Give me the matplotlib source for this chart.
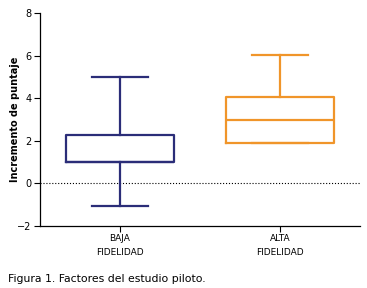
import matplotlib.pyplot as plt

# datos
grupos = ['BAJA\nFIDELIDAD', 'ALTA\nFIDELIDAD']
q1 = [1.0, 1.9]
mediana = [1.0, 3.0]
q3 = [2.27, 4.07]
bigote_inf = [-1.05, 1.9]
bigote_sup = [5.0, 6.03]
colores = ['#2b2d78', '#f0952a']

fig = plt.figure(figsize=(3.67, 2.88), dpi=100)
ax = fig.add_axes([0.109, 0.215, 0.872, 0.74])

stats = []
for i in range(len(grupos)):
    stats.append(dict(med=mediana[i], q1=q1[i], q3=q3[i],
                      whislo=bigote_inf[i], whishi=bigote_sup[i], fliers=[]))

# línea de referencia en cero
ax.axhline(0, color='black', lw=0.8, ls=':', zorder=1)

for i, s in enumerate(stats):
    c = colores[i]
    ax.bxp([s], positions=[i], widths=0.67, showfliers=False,
           boxprops=dict(color=c, lw=1.6),
           medianprops=dict(color=c, lw=1.6),
           whiskerprops=dict(color=c, lw=1.6),
           capprops=dict(color=c, lw=1.6),
           capwidths=0.35)

ax.set_xlim(-0.5, 1.5)
ax.set_ylim(-2, 8)
ax.set_yticks([-2, 0, 2, 4, 6, 8])
ax.set_yticklabels(['\u22122', '0', '2', '4', '6', '8'])
ax.set_xticks(range(len(grupos)))
ax.set_xticklabels(grupos, fontsize=6.5, linespacing=1.6)
ax.tick_params(axis='y', labelsize=7, length=4, width=0.8, pad=2)
ax.tick_params(axis='x', length=4, width=0.8, pad=2)
ax.set_ylabel('Incremento de puntaje', fontsize=7, fontweight='bold')
ax.yaxis.set_label_coords(-0.062, 0.5)

for lado in ['top', 'right']:
    ax.spines[lado].set_visible(False)
for lado in ['left', 'bottom']:
    ax.spines[lado].set_linewidth(0.9)

# pie de figura
fig.text(0.022, 0.022, 'Figura 1. Factores del estudio piloto.', fontsize=7.8)

plt.savefig('out.png', dpi=100)
